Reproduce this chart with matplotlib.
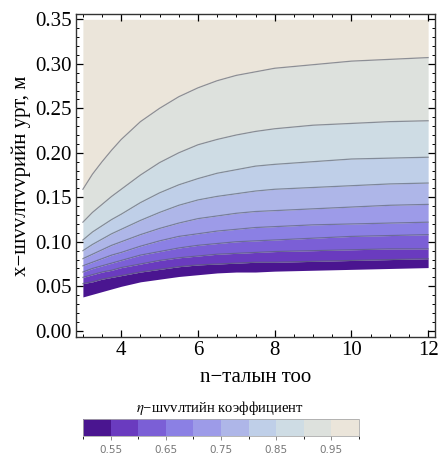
import matplotlib
matplotlib.use("Agg")
import matplotlib.pyplot as plt
import numpy as np
from matplotlib.colors import ListedColormap, BoundaryNorm
from matplotlib.cm import ScalarMappable
from matplotlib.ticker import MultipleLocator, FormatStrFormatter

plt.rcParams['font.family'] = ['Liberation Serif', 'DejaVu Serif']
plt.rcParams['mathtext.fontset'] = 'stix'

# n values where the contour heights were read
n_vals = [3, 3.25, 3.5, 3.75, 4, 4.5, 5, 5.5, 6, 6.5, 7, 7.5, 8, 9, 10, 11, 12]

# x (m) of each eta contour at n_vals
eta_50 = [0.038, 0.041, 0.044, 0.047, 0.050, 0.055, 0.058, 0.061, 0.063, 0.065, 0.066, 0.066, 0.067, 0.068, 0.069, 0.070, 0.071]
eta_55 = [0.053, 0.055, 0.058, 0.060, 0.062, 0.066, 0.069, 0.072, 0.074, 0.075, 0.076, 0.077, 0.077, 0.078, 0.079, 0.080, 0.081]
eta_60 = [0.060, 0.063, 0.066, 0.068, 0.071, 0.075, 0.079, 0.082, 0.084, 0.086, 0.087, 0.088, 0.089, 0.090, 0.091, 0.092, 0.092]
eta_65 = [0.066, 0.070, 0.073, 0.076, 0.079, 0.085, 0.089, 0.093, 0.096, 0.098, 0.100, 0.101, 0.102, 0.104, 0.106, 0.107, 0.108]
eta_70 = [0.073, 0.077, 0.081, 0.085, 0.088, 0.095, 0.101, 0.106, 0.109, 0.112, 0.114, 0.116, 0.117, 0.119, 0.120, 0.121, 0.122]
eta_75 = [0.081, 0.086, 0.091, 0.096, 0.100, 0.108, 0.115, 0.121, 0.126, 0.129, 0.132, 0.134, 0.135, 0.137, 0.139, 0.141, 0.142]
eta_80 = [0.090, 0.097, 0.103, 0.109, 0.114, 0.124, 0.133, 0.141, 0.147, 0.151, 0.154, 0.157, 0.159, 0.161, 0.163, 0.165, 0.166]
eta_85 = [0.102, 0.111, 0.118, 0.125, 0.131, 0.144, 0.155, 0.164, 0.171, 0.177, 0.181, 0.185, 0.187, 0.190, 0.193, 0.194, 0.195]
eta_90 = [0.122, 0.133, 0.142, 0.151, 0.159, 0.175, 0.189, 0.200, 0.209, 0.215, 0.220, 0.224, 0.227, 0.231, 0.233, 0.235, 0.236]
eta_95 = [0.159, 0.176, 0.190, 0.203, 0.215, 0.235, 0.250, 0.263, 0.273, 0.281, 0.287, 0.291, 0.295, 0.299, 0.303, 0.305, 0.307]
x_top = 0.35

levels = [0.5, 0.55, 0.6, 0.65, 0.7, 0.75, 0.8, 0.85, 0.9, 0.95, 1.0]
band_colors = ['#4a1590', '#6a3bbf', '#7b5fd6', '#8b80e4', '#9d9be8',
               '#aeb6e8', '#bfcfe8', '#cedce4', '#dde1dd', '#ebe5da']

bounds = [eta_50, eta_55, eta_60, eta_65, eta_70, eta_75, eta_80, eta_85, eta_90, eta_95]

fig = plt.figure(figsize=(4.4, 4.57), dpi=100)
ax = fig.add_axes([0.1727, 0.2626, 0.8160, 0.7068])

n = np.array(n_vals)
for i in range(len(bounds)):
    lower = np.array(bounds[i])
    upper = np.array(bounds[i + 1]) if i + 1 < len(bounds) else np.full(len(n), x_top)
    ax.fill_between(n, lower, upper, color=band_colors[i], lw=0, zorder=1)

for b in bounds[1:]:
    ax.plot(n, b, color='#5a6070', lw=0.9, alpha=0.65, zorder=2)

ax.set_xlim(2.82, 12.18)
ax.set_ylim(-0.007, 0.356)
ax.xaxis.set_major_locator(MultipleLocator(2))
ax.xaxis.set_minor_locator(MultipleLocator(0.5))
ax.yaxis.set_major_locator(MultipleLocator(0.05))
ax.yaxis.set_minor_locator(MultipleLocator(0.01))
ax.yaxis.set_major_formatter(FormatStrFormatter('%.2f'))
ax.tick_params(which='both', direction='in', top=True, right=True, labelsize=15, pad=3)
ax.tick_params(which='major', length=5, width=0.9)
ax.tick_params(which='minor', length=2.5, width=0.7)
for s in ax.spines.values():
    s.set_linewidth(1.0)
    s.set_color('#333333')

ax.set_xlabel('n−талын тоо', fontsize=15, labelpad=6)
ax.set_ylabel('x−шvvлтvvрийн урт, м', fontsize=15, labelpad=3)

# colour legend
cmap = ListedColormap(band_colors)
norm = BoundaryNorm(levels, cmap.N)
cax = fig.add_axes([0.1886, 0.046, 0.627, 0.037])
cb = fig.colorbar(ScalarMappable(norm=norm, cmap=cmap), cax=cax, orientation='horizontal',
                  ticks=[0.55, 0.65, 0.75, 0.85, 0.95])
cb.ax.set_xticklabels(['0.55', '0.65', '0.75', '0.85', '0.95'])
cb.ax.tick_params(labelsize=7.5, colors='#777777', length=3, width=0.6, labelfontfamily='DejaVu Sans')
cb.outline.set_edgecolor('#aaaaaa')
cb.outline.set_linewidth(0.6)
fig.text(0.5, 0.107, r'$\eta$−шvvлтийн коэффициент', ha='center', va='center', fontsize=10.5)

fig.savefig('out.png', dpi=100)
